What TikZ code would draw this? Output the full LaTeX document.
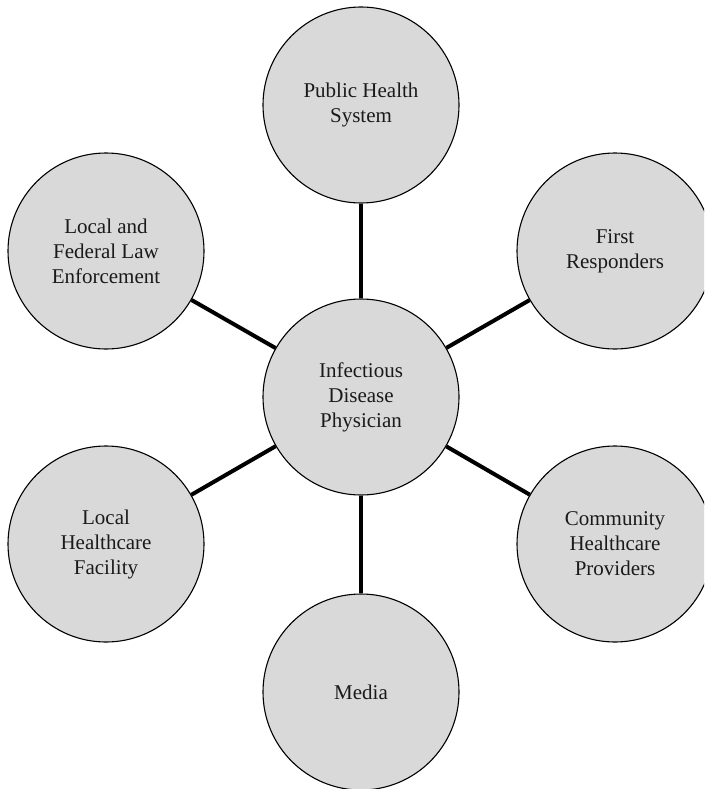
\documentclass[tikz,border=0pt]{standalone}
\usepackage{fontspec}
\setmainfont{Liberation Serif}
\definecolor{circfill}{HTML}{D9D9D9}
\definecolor{txt}{HTML}{1A1A1A}
\begin{document}
\begin{tikzpicture}[x=1pt,y=-1pt,
  bub/.style={circle,draw=black,line width=1.1pt,fill=circfill,minimum size=196pt,inner sep=0pt,
    align=center,text=txt,font=\fontsize{21}{25}\selectfont},
  link/.style={line width=4pt,black}]
\useasboundingbox (0,0) rectangle (704,789);
\clip (0,0) rectangle (704,789);
\node[bub] (c) at (361,397) {Infectious\\Disease\\Physician};
\node[bub] (t) at (361,105) {Public Health\\System};
\node[bub] (ur) at (615,251) {First\\Responders};
\node[bub] (lr) at (615,544) {Community\\Healthcare\\Providers};
\node[bub] (b) at (361,692) {Media};
\node[bub] (ll) at (106,544) {Local\\Healthcare\\Facility};
\node[bub] (ul) at (106,251) {Local and\\Federal Law\\Enforcement};
\foreach \n in {t,ur,lr,b,ll,ul} \draw[link] (c) -- (\n);
\end{tikzpicture}
\end{document}
